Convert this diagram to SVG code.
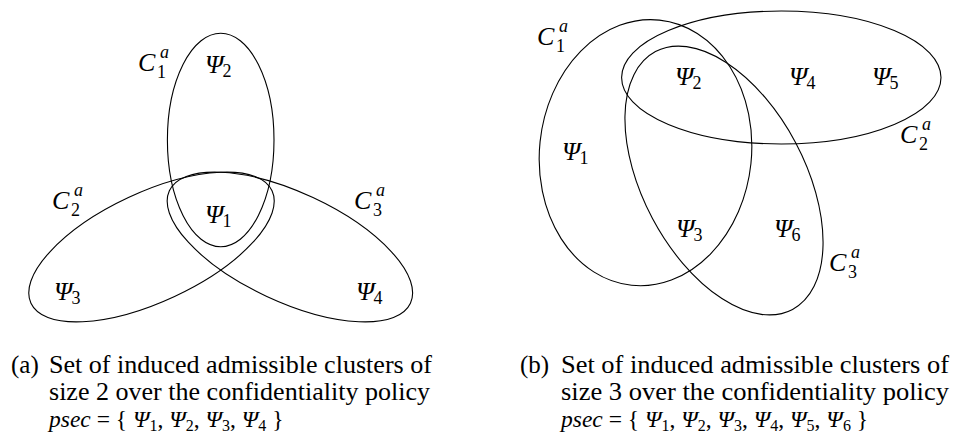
<svg xmlns="http://www.w3.org/2000/svg" width="957" height="435" viewBox="0 0 957 435">
<style>
.e{fill:none;stroke:#000;stroke-width:1.1}
.m{font-family:"Liberation Serif",serif;font-style:italic;font-size:26px;fill:#000}
.d{font-family:"Liberation Serif",serif;font-size:18px;fill:#000}
.sp{font-family:"Liberation Serif",serif;font-style:italic;font-size:18px;fill:#000}
.c{font-family:"Liberation Serif",serif;font-size:25px;fill:#000}
.c3{font-family:"Liberation Serif",serif;font-size:23.5px;fill:#000}
.i{font-style:italic}
.sb{font-size:16px}
</style>
<rect width="957" height="435" fill="#fff"/>
<!-- Diagram (a) -->
<g id="a-C1">
<ellipse class="e" cx="220.7" cy="140" rx="53.3" ry="106.7"/>
<text class="m" x="138" y="71">C</text><text class="d" x="157" y="78">1</text><text class="sp" x="160" y="58">a</text>
</g>
<g id="a-C2">
<ellipse class="e" cx="0" cy="0" rx="133" ry="54.6" transform="translate(151.5 247) rotate(-25)"/>
<text class="m" x="52" y="209">C</text><text class="d" x="71" y="216">2</text><text class="sp" x="74" y="196">a</text>
</g>
<g id="a-C3">
<ellipse class="e" cx="0" cy="0" rx="133" ry="54.6" transform="translate(289.9 247) rotate(25)"/>
<text class="m" x="354" y="209">C</text><text class="d" x="373" y="216">3</text><text class="sp" x="376" y="196">a</text>
</g>
<g id="a-psi1"><text class="m" x="205" y="223">Ψ</text><text class="d" x="222.5" y="227">1</text></g>
<g id="a-psi2"><text class="m" x="205" y="73">Ψ</text><text class="d" x="222.5" y="77">2</text></g>
<g id="a-psi3"><text class="m" x="54" y="300">Ψ</text><text class="d" x="71.5" y="304">3</text></g>
<g id="a-psi4"><text class="m" x="356" y="300">Ψ</text><text class="d" x="373.5" y="304">4</text></g>
<!-- Diagram (b) -->
<g id="b-C1">
<ellipse class="e" cx="0" cy="0" rx="106" ry="133.3" transform="translate(645.5 152.7) rotate(6)"/>
<text class="m" x="537" y="45">C</text><text class="d" x="556" y="52">1</text><text class="sp" x="559" y="32">a</text>
</g>
<g id="b-C2">
<ellipse class="e" cx="781.3" cy="77.5" rx="159.7" ry="66.5"/>
<text class="m" x="900" y="143">C</text><text class="d" x="919" y="150">2</text><text class="sp" x="922" y="130">a</text>
</g>
<g id="b-C3">
<ellipse class="e" cx="0" cy="0" rx="81" ry="146" transform="translate(724 180.5) rotate(-28)"/>
<text class="m" x="829" y="271">C</text><text class="d" x="848" y="278">3</text><text class="sp" x="851" y="258">a</text>
</g>
<g id="b-psi1"><text class="m" x="562" y="160">Ψ</text><text class="d" x="579.5" y="164">1</text></g>
<g id="b-psi2"><text class="m" x="675" y="85">Ψ</text><text class="d" x="692.5" y="89">2</text></g>
<g id="b-psi3"><text class="m" x="676" y="237">Ψ</text><text class="d" x="693.5" y="241">3</text></g>
<g id="b-psi4"><text class="m" x="789" y="85">Ψ</text><text class="d" x="806.5" y="89">4</text></g>
<g id="b-psi5"><text class="m" x="872" y="85">Ψ</text><text class="d" x="889.5" y="89">5</text></g>
<g id="b-psi6"><text class="m" x="774" y="237">Ψ</text><text class="d" x="791.5" y="241">6</text></g>
<!-- Captions -->
<g id="caption-a">
<text class="c" x="11" y="373">(a)</text>
<text class="c" x="49" y="373" textLength="383" lengthAdjust="spacingAndGlyphs">Set of induced admissible clusters of</text>
<text class="c" x="49" y="400" textLength="381" lengthAdjust="spacingAndGlyphs">size 2 over the confidentiality policy</text>
<text class="c3" x="49" y="427"><tspan class="i">psec</tspan> = { <tspan class="i">Ψ</tspan><tspan class="sb" dy="4">1</tspan><tspan dy="-4">, </tspan><tspan class="i">Ψ</tspan><tspan class="sb" dy="4">2</tspan><tspan dy="-4">, </tspan><tspan class="i">Ψ</tspan><tspan class="sb" dy="4">3</tspan><tspan dy="-4">, </tspan><tspan class="i">Ψ</tspan><tspan class="sb" dy="4">4</tspan><tspan dy="-4"> }</tspan></text>
</g>
<g id="caption-b">
<text class="c" x="520" y="373">(b)</text>
<text class="c" x="561" y="373" textLength="388" lengthAdjust="spacingAndGlyphs">Set of induced admissible clusters of</text>
<text class="c" x="561" y="400" textLength="388" lengthAdjust="spacingAndGlyphs">size 3 over the confidentiality policy</text>
<text class="c3" x="561" y="427"><tspan class="i">psec</tspan> = { <tspan class="i">Ψ</tspan><tspan class="sb" dy="4">1</tspan><tspan dy="-4">, </tspan><tspan class="i">Ψ</tspan><tspan class="sb" dy="4">2</tspan><tspan dy="-4">, </tspan><tspan class="i">Ψ</tspan><tspan class="sb" dy="4">3</tspan><tspan dy="-4">, </tspan><tspan class="i">Ψ</tspan><tspan class="sb" dy="4">4</tspan><tspan dy="-4">, </tspan><tspan class="i">Ψ</tspan><tspan class="sb" dy="4">5</tspan><tspan dy="-4">, </tspan><tspan class="i">Ψ</tspan><tspan class="sb" dy="4">6</tspan><tspan dy="-4"> }</tspan></text>
</g>
</svg>
